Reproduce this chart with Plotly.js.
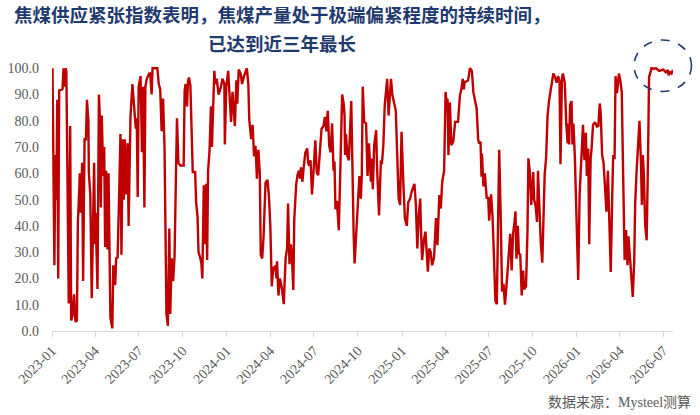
<!DOCTYPE html>
<html>
<head>
<meta charset="utf-8">
<script src="https://cdn.plot.ly/plotly-3.0.1.min.js"></script>
<style>
html,body{margin:0;padding:0;background:#fff;}
#chart{width:700px;height:415px;}
</style>
</head>
<body>
<div id="chart"></div>
<script>
// ---- data ----
const startDate = '2023-01-01';
// day offsets from startDate of each observed vertex
const dayOffset = [
1,5,7,9,11,13,15,22,24,26,28,30,35,38,40,43,46,49,52,54,
57,58,60,63,65,68,71,73,76,77,80,83,88,90,91,95,98,100,102,104,
107,109,111,113,116,118,122,125,126,128,132,134,137,140,143,145,148,150,152,155,
158,160,164,168,172,175,177,179,181,185,188,190,193,195,198,203,205,208,210,220,
223,226,229,232,235,239,242,245,247,250,253,256,258,261,264,268,275,277,279,282,
284,286,289,292,294,299,301,304,306,310,312,314,315,317,320,322,324,326,329,332,
334,336,339,341,344,348,350,353,356,360,361,364,368,371,374,377,380,382,385,387,
390,394,397,401,407,410,412,416,419,422,425,428,431,434,436,439,442,446,450,453,
456,459,462,466,469,470,473,476,480,484,488,491,493,496,499,501,504,506,510,513,
516,518,520,523,525,529,533,535,537,540,543,545,547,550,553,556,560,563,567,570,
573,576,579,582,585,588,590,592,595,599,602,606,609,611,612,614,617,620,625,627,
630,632,636,640,642,645,647,649,652,656,659,662,666,668,670,673,677,679,683,687,
689,692,695,698,700,703,706,708,711,714,718,721,724,727,730,734,737,741,744,748,
751,755,757,760,763,766,769,771,773,777,780,782,785,788,791,794,798,802,805,809,
812,815,819,822,824,826,828,831,834,838,842,848,852,855,858,860,862,866,869,873,
877,880,883,887,890,892,895,897,898,901,904,908,911,913,917,920,923,926,929,931,
934,937,940,943,946,950,954,957,960,963,966,968,970,973,975,978,981,984,986,990,
993,995,998,1001,1005,1007,1010,1013,1015,1018,1021,1024,1026,1029,1032,1035,1038,1041,1044,1047,
1050,1054,1057,1060,1062,1065,1067,1071,1074,1077,1078,1080,1082,1085,1087,1089,1092,1095,1099,1102,
1105,1109,1112,1115,1117,1120,1122,1125,1127,1130,1134,1138,1141,1144,1146,1149,1152,1155,1158,1161,
1163,1167,1170,1172,1175,1177,1180,1184,1187,1190,1193,1196,1199,1202,1204,1207,1210,1213,1216,1218,
1221,1224,1227,1230,1232,1234,1236,1239,1242,1245,1247,1250,1252,1257,1262,1268,1273,1277,1282,1286,1288,1291,1294,1297
];
// coking-coal supply tightness index
const tightnessIndex = [
100,25,67,50,88,20,91.5,92,100,93,100,99,10.5,78,4,6,14,3.5,4,41,
54,60,45,64,19,73,73,88,80,60,52,12.5,64,33,45,16,90,81,47,82,
59,70,32,61,31,60,5,1,1,25,17.5,27.7,28,50,75,29,73,50,73,52,
71.5,40,82,94,82,77,81,51,93,97,68,93,47,93,96,98,98,90,100,100,
94,92,76,88.5,70,6.7,2,39,6.5,27.7,19,28.5,50,81,64,63,63,91.5,94,85.5,
95,96.5,93.5,69.5,60.5,60.5,49,43.5,30,27.5,25.7,20,31,55.5,33,56,27,61,68.5,85.5,
70,86.5,99,94,96,90,91,93,96,94,71,93,99,89,79.6,91,84,78,95.4,86.5,
99.5,98,94,97,100,94,80.5,73,78.5,66.5,70.5,58,69,60,29,27.6,36.5,56.5,57.5,51.5,
40,17,24,24.5,20,26.5,13.5,20,16.5,10.2,27.8,31.4,48.5,25.4,33,29,15.6,42.5,55.8,59.5,
61,58,62.3,56.8,61,67.8,69.5,64,63,65,52,60.6,63,72.6,60.3,59.3,70,77,78,81.5,
76,83.8,70.5,68,79,61,64.5,46.3,49.5,38.4,60,90,86.8,82,67,75,66.5,65,87.5,60.5,
37,25.7,39,50.4,59,50.4,59,93,79.6,79,59,71.4,56.8,65.6,54,70.7,76.4,62,44,65,
63.5,70.7,86,92,96,82,93.5,96,89.7,87,84,67,50.4,48,75.8,55.5,43,40,49,50.4,
53,55,56,48,31.4,44,50.4,36.5,27,35,37.8,32,22.6,31.4,30,25,28,43,32.7,51.7,
46.6,56.8,61,91,87,88.5,67,87,70.7,72,79.6,79.6,89.7,92,96,92,94.8,95,95.4,100,
99,91,88.5,84.5,73,71.4,72,58.7,67.5,55,60,50.4,51,42,52,44,28.5,11.5,10.2,40,
69,45,15,18,10,19,30,37,23,37,41.5,45.5,27.5,40,29.5,29,13.5,23,15.8,17,
37.5,65.7,60.5,48,60.5,50,47.5,41.5,61,42.5,33,26,43.5,59.6,66,82,87.5,91.6,94,98,
97,94.5,97,95,63.5,96,98,94.5,79,71.4,79,71,86,87.5,71,79,66.3,48,19.4,52,
63,78.5,65,75.4,59,69.5,33,65.7,69.5,78.5,79.5,77.8,78,86.6,82.8,67,64,55,45.4,61,
45.4,22.5,51,66.3,66,97,90.5,98,95.4,90.8,58,27,38.4,25,36,27,21.5,13,26.5,48.5,
61,71,80,64.5,48,67,60,40,34.5,68,96.7,98.5,100,99.8,100,99,99.2,99.5,98.5,99.3,97.3,98.5,98,99.3
];
const titleLines = ['焦煤供应紧张指数表明，焦煤产量处于极端偏紧程度的持续时间，', '已达到近三年最长'];
const sourceText = '数据来源：Mysteel测算';
const xRange = ['2023-01-01', '2026-07-21'];
const yRange = [0, 102];

// ---- build ----
const t0 = Date.UTC(2023, 0, 1);
const dates = dayOffset.map(d => new Date(t0 + d * 86400000).toISOString().slice(0, 10));

const L = 52, R = 27, T = 63, B = 84;
const W = 700 - L - R, H = 415 - T - B;
const px = x => (x - L) / W;
const py = y => (415 - B - y) / H;

const serif = '"Liberation Serif", "Times New Roman", "Noto Sans CJK SC", serif';
const cjk = '"Noto Sans CJK SC", sans-serif';

const trace = {
  type: 'scatter', mode: 'lines',
  x: dates, y: tightnessIndex,
  line: {color: '#C00000', width: 2.4},
  hoverinfo: 'skip'
};

const layout = {
  width: 700, height: 415,
  margin: {l: L, r: R, t: T, b: B, pad: 0},
  paper_bgcolor: '#ffffff', plot_bgcolor: '#ffffff',
  showlegend: false, hovermode: false,
  xaxis: {
    type: 'date', range: xRange,
    tick0: '2023-01-01', dtick: 'M3', tickformat: '%Y-%m',
    tickangle: -45, ticks: 'outside', ticklen: 5, tickwidth: 1, tickcolor: '#D9D9D9',
    showline: true, linecolor: '#D9D9D9', linewidth: 1,
    showgrid: false, zeroline: false,
    tickfont: {family: serif, size: 14, color: '#595959'}
  },
  yaxis: {
    range: yRange, dtick: 10, tick0: 0, tickformat: '.1f',
    ticks: '', showline: false, showgrid: false, zeroline: false,
    ticklabelstandoff: 12,
    tickfont: {family: serif, size: 14, color: '#595959'}
  },
  annotations: [
    {xref: 'paper', yref: 'paper', x: px(282), y: py(14), xanchor: 'center', yanchor: 'middle',
     text: '<b>' + titleLines[0] + '</b>', showarrow: false,
     font: {family: cjk, size: 18.5, color: '#1F3A6E'}},
    {xref: 'paper', yref: 'paper', x: px(282), y: py(43), xanchor: 'center', yanchor: 'middle',
     text: '<b>' + titleLines[1] + '</b>', showarrow: false,
     font: {family: cjk, size: 18.5, color: '#1F3A6E'}},
    {xref: 'paper', yref: 'paper', x: px(693), y: py(402), xanchor: 'right', yanchor: 'middle',
     text: sourceText, showarrow: false,
     font: {family: serif, size: 14, color: '#595959'}}
  ],
  shapes: [
    {type: 'circle', xref: 'paper', yref: 'paper',
     x0: px(634), x1: px(691.5), y0: py(91.5), y1: py(40),
     line: {color: '#1F3A6E', width: 1.6, dash: 'dash'}, fillcolor: 'rgba(0,0,0,0)'}
  ]
};

Plotly.newPlot('chart', [trace], layout, {displayModeBar: false, staticPlot: true});
</script>
</body>
</html>
